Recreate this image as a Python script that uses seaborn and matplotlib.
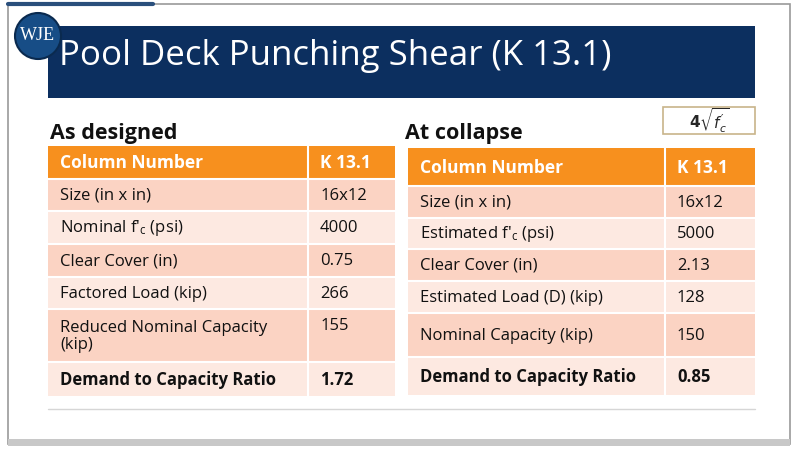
import matplotlib
matplotlib.use("Agg")
import matplotlib.pyplot as plt
from matplotlib.patches import Rectangle, Circle
import seaborn as sns

sns.set_theme(style="white")
plt.rcParams["font.family"] = "Open Sans"
plt.rcParams["mathtext.default"] = "regular"

title = "Pool Deck Punching Shear (K 13.1)"
left_title = "As designed"
right_title = "At collapse"
header = ["Column Number", "K 13.1"]
left_labels = ["Size (in x in)", "Nominal f\u2032$_{c}$ (psi)", "Clear Cover (in)", "Factored Load (kip)",
               "Reduced Nominal Capacity\n(kip)", "Demand to Capacity Ratio"]
left_values = ["16x12", "4000", "0.75", "266", "155", "1.72"]
right_labels = ["Size (in x in)", "Estimated f\u2032$_{c}$ (psi)", "Clear Cover (in)", "Estimated Load (D) (kip)",
                "Nominal Capacity (kip)", "Demand to Capacity Ratio"]
right_values = ["16x12", "5000", "2.13", "128", "150", "0.85"]

W, H = 800, 452
fig = plt.figure(figsize=(8, 4.52), dpi=100)
ax = fig.add_axes([0, 0, 1, 1])
ax.set_xlim(0, W); ax.set_ylim(H, 0); ax.axis("off")

ORANGE = "#F7901E"; DARK = "#FBD3C3"; LIGHT = "#FDE9E1"; NAVY = "#0C2F5F"

# frame
ax.add_patch(Rectangle((8, 5), 782, 440, fill=False, ec="#9a9a9a", lw=1.2))
ax.add_patch(Rectangle((8, 440), 782, 7, color="#c8c8c8", lw=0))
ax.plot([8, 153], [5, 5], color="#2a4f7c", lw=3)

# banner
ax.add_patch(Rectangle((48, 27), 707, 72, color=NAVY, lw=0))
ax.text(59, 56, title, color="white", fontsize=25, va="center", ha="left")
ax.add_patch(Circle((38, 37), 23, fc="#174d86", ec="#0a2a4f", lw=1.5, zorder=3))
ax.text(38, 36, "WJE", color="white", fontsize=13, family="Liberation Serif", ha="center", va="center", zorder=4)

def table(x0, xs, x1, ys, labels, values):
    ax.add_patch(Rectangle((x0, ys[0]), x1 - x0, ys[1] - ys[0], color=ORANGE, lw=0))
    ax.text(x0 + 12, (ys[0] + ys[1]) / 2, header[0], color="white", fontsize=12.5, weight="bold", va="center")
    ax.text(xs + 12, (ys[0] + ys[1]) / 2, header[1], color="white", fontsize=12.5, weight="bold", va="center")
    for i, (lab, val) in enumerate(zip(labels, values)):
        a, b = ys[i + 1], ys[i + 2]
        ax.add_patch(Rectangle((x0, a), x1 - x0, b - a, color=DARK if i % 2 == 0 else LIGHT, lw=0))
        w = "bold" if i == len(labels) - 1 else "normal"
        ax.text(x0 + 12, (a + b) / 2, lab, color="#111111", fontsize=12, weight=w, va="center", linespacing=1.1)
        ax.text(xs + 12, (a + b) / 2 if "\n" not in lab else a + 16, val, color="#111111", fontsize=12, weight=w, va="center")
        ax.plot([x0, x1], [a, a], color="white", lw=1.5)
    ax.plot([xs, xs], [ys[0], ys[-1]], color="white", lw=1.5)

table(48, 308, 395, [147, 180, 212, 245, 278, 310, 363, 397], left_labels, left_values)
table(408, 665, 755, [149, 187, 219, 250, 282, 314, 358, 396], right_labels, right_values)

ax.text(50, 134, left_title, fontsize=15.5, weight="bold", color="#111111", va="center")
ax.text(405, 134, right_title, fontsize=15.5, weight="bold", color="#111111", va="center")

ax.add_patch(Rectangle((663, 108), 92, 27, fc="white", ec="#c8b48a", lw=1.2))
ax.text(709, 121, r"$\mathbf{4}\sqrt{\mathit{f}_{\mathit{c}}^{\prime}}$", fontsize=11, ha="center", va="center", family="DejaVu Serif")

ax.plot([48, 755], [410, 410], color="#d6d6d6", lw=1)

fig.savefig("out.png", dpi=100)
